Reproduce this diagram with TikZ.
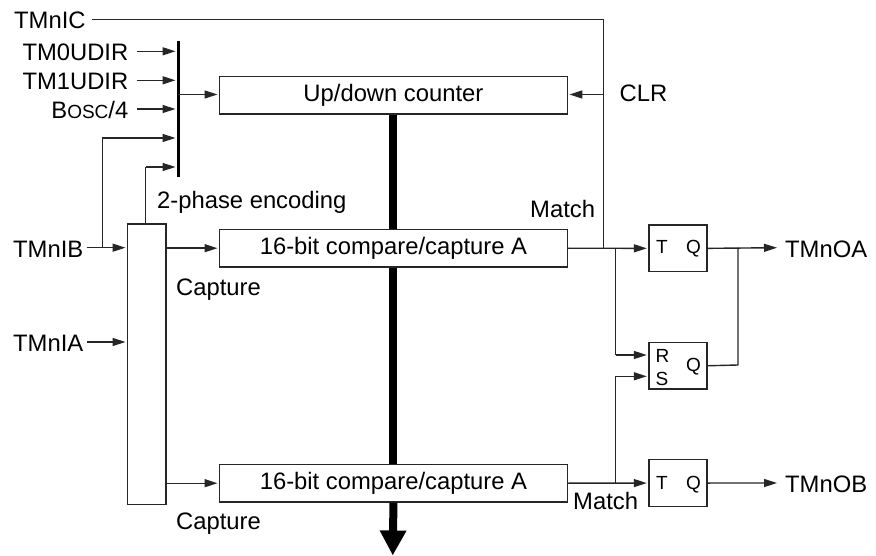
\documentclass[tikz,border=0pt]{standalone}
\usepackage{fontspec}
\setmainfont{Liberation Sans}
\usetikzlibrary{arrows.meta}
\tikzset{
  wire/.style={line width=1.4pt,draw=black!85},
  arr/.style={wire,-{Triangle[length=13pt,width=8pt]},shorten >=1.5pt},
  block/.style={draw=black!85,line width=1.4pt,fill=white,inner sep=0pt,anchor=north west},
  lab/.style={font=\fontsize{23.8}{25}\selectfont,inner sep=0pt,text height=19pt,text depth=0pt},
  txt/.style={font=\fontsize{23.8}{25}\selectfont,inner sep=0pt,anchor=base west},
  small/.style={font=\fontsize{19}{21}\selectfont,inner sep=0pt,anchor=base west},
  bus/.style={line width=8pt,draw=black}
}
\begin{document}
\begin{tikzpicture}[x=1pt,y=-1pt]
\useasboundingbox (0,0) rectangle (876,556);
% blocks
\node[block,minimum width=347.5pt,minimum height=37.6pt,font=\fontsize{23.8}{25}\selectfont] (up) at (219,75.7) {Up/down counter};
\node[block,minimum width=347.5pt,minimum height=37.6pt,font=\fontsize{23.8}{25}\selectfont] (ca) at (219,228.7) {16-bit compare/capture A};
\node[block,minimum width=347.5pt,minimum height=37.6pt,font=\fontsize{23.8}{25}\selectfont] (cb) at (219,463.7) {16-bit compare/capture A};
\node[block,minimum width=38.3pt,minimum height=280.7pt] (enc) at (127,223.3) {};
\node[block,minimum width=58pt,minimum height=46.7pt] (ffa) at (648.3,224.3) {};
\node[block,minimum width=58pt,minimum height=46.7pt] (ffm) at (648.3,341.7) {};
\node[block,minimum width=58pt,minimum height=46.7pt] (ffb) at (648.3,459) {};
% flip-flop letters
\node[small] (ta) at (656,254) {T};
\node[small] (qa) at (686,254) {Q};
\node[small] (r) at (655.5,362) {R};
\node[small] (s) at (655.5,385) {S};
\node[small] (qm) at (686,371.7) {Q};
\node[small] (tb) at (656,489.3) {T};
\node[small] (qb) at (686,489.3) {Q};
% bus
\coordinate (tip) at (392.75,555.5);
\draw[bus] (up.south) -- (ca.north);
\draw[bus] (ca.south) -- (cb.north);
\draw[bus,-{Triangle[length=25pt,width=25pt]}] (cb.south) -- (tip);
% input bar
\coordinate (bartop) at (178,41);
\coordinate (barbot) at (178,177);
\draw[line width=3pt] (bartop) -- (barbot);
% labels with connectors
\node[lab,anchor=west] (ic) at (14,19.3) {TMnIC};
\node[lab,anchor=east,inner xsep=8.5pt] (u0) at (137,51.3) {TM0UDIR};
\node[lab,anchor=east,inner xsep=8.5pt] (u1) at (137,80.3) {TM1UDIR};
\node[lab,anchor=east,inner xsep=8.5pt] (bo) at (137,109) {B{\fontsize{19}{21}\selectfont OSC}/4};
\node[lab,anchor=west,inner xsep=0pt] (ib) at (13,247.7) {TMnIB};
\node[lab,anchor=west,inner xsep=0pt] (ia) at (13,342) {TMnIA};
\node[lab,anchor=west] (oa) at (785,247.7) {TMnOA};
\node[lab,anchor=west] (ob) at (785,483) {TMnOB};
\coordinate (b0) at (177,51.3);
\coordinate (b1) at (177,80.3);
\coordinate (b2) at (177,109);
\coordinate (b3) at (177,138);
\coordinate (b4) at (177,167);
\draw[arr] (u0.east) -- (b0);
\draw[arr] (u1.east) -- (b1);
\draw[arr] (bo.east) -- (b2);
% bar to counter
\coordinate (barout) at (178,94.5);
\draw[arr] (barout) -- (up.west |- barout);
% TMnIC
\coordinate (ctop) at (603.7,19.3);
\coordinate (cclr) at (603.7,94.5);
\coordinate (cmatch) at (603.7,247.7);
\draw[wire] ([xshift=6pt]ic.east) -- (ctop) -- (cmatch);
\draw[arr] (cclr) -- (up.east |- cclr);
\node[txt] (clr) at (619.5,102) {CLR};
% TMnIB / TMnIA
\coordinate (ibs) at (102.3,247.7);
\draw[arr] ([xshift=3.5pt]ib.east) -- (enc.west |- ib);
\draw[wire,-] (ibs) -- (ibs |- b3);
\draw[arr] (ibs |- b3) -- (b3);
\draw[arr] ([xshift=3.5pt]ia.east) -- (enc.west |- ia);
\coordinate (ent) at (145.7,223.3);
\draw[wire] (ent) -- (ent |- b4);
\draw[arr] (ent |- b4) -- (b4);
\draw[arr] (enc.east |- ca.west) -- (ca.west);
\draw[arr] (enc.east |- cb.west) -- (cb.west);
% to flip-flops
\coordinate (rin) at (615.7,355);
\coordinate (sin) at (615.7,376.3);
\coordinate (bra) at (615.7,247.7);
\coordinate (brb) at (615.7,482.5);
\draw[arr] (ca.east) -- (ffa.west);
\draw[wire] (bra) -- (rin);
\draw[arr] (rin) -- (ffm.west |- rin);
\draw[arr] (cb.east) -- (ffb.west);
\draw[wire] (brb) -- (sin);
\draw[arr] (sin) -- (ffm.west |- sin);
% outputs
\coordinate (oj) at (738,247.7);
\coordinate (omid) at (738,365);
\draw[arr] (ffa.east) -- ([xshift=-6.5pt]oa.west);
\draw[arr] (ffb.east) -- ([xshift=-6.5pt]ob.west);
\draw[wire] (ffm.east) -- (omid) -- (oj);
% free labels
\node[txt] (enclab) at (157,209) {2-phase encoding};
\node[txt] (m1) at (530,218) {Match};
\node[txt] (m2) at (573,509) {Match};
\node[txt] (c1) at (176,295) {Capture};
\node[txt] (c2) at (176,529) {Capture};
\end{tikzpicture}
\end{document}
